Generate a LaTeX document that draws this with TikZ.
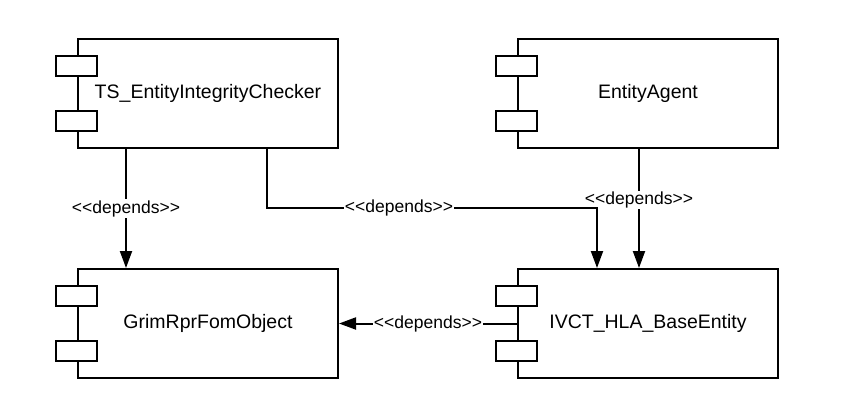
\documentclass[tikz,border=0pt]{standalone}
\usepackage{fontspec}
\setmainfont{Liberation Sans}
\usepackage{tikz}
\usetikzlibrary{arrows.meta,positioning,calc}
\newcommand{\dependstxt}{<\kern0pt<depends>\kern0pt>}

\begin{document}
\begin{tikzpicture}[x=1pt,y=-1pt,
    compbox/.style={draw,line width=2pt,minimum width=260pt,minimum height=109pt,
      font=\fontsize{19.5}{23}\selectfont},
    comptab/.style={draw,fill=white,line width=2pt},
    dep/.style={-{Triangle[length=17pt,width=12pt]},line width=2pt},
    deplab/.style={fill=white,inner sep=1pt,font=\fontsize{17.5}{20}\selectfont}]
        \useasboundingbox (0,0) rectangle (841,418);
        % Componentes
        \node[compbox] (checker) at (208,93.5) {TS\_EntityIntegrityChecker};
        \node[compbox] (agent)   at (648,93.5) {EntityAgent};
        \node[compbox] (grim)    at (208,323.5) {GrimRprFomObject};
        \node[compbox] (base)    at (648,323.5) {IVCT\_HLA\_BaseEntity};
        % Abas dos componentes
        \foreach \n in {checker,agent,grim,base}{
          \draw[comptab] ($(\n.north west)+(-21,18)$) rectangle ($(\n.north west)+(20,38)$);
          \draw[comptab] ($(\n.north west)+(-21,73)$) rectangle ($(\n.north west)+(20,93)$);
        }

        % Dependencias
        \draw[dep] ([xshift=49pt]checker.south west) -- ([xshift=49pt]grim.north west)
          node[midway,deplab]{\dependstxt};
        \draw[dep] ([xshift=122pt]agent.south west) -- ([xshift=122pt]base.north west)
          node[pos=0.43,deplab]{\dependstxt};
        \draw[dep] ([xshift=190pt]checker.south west)
          |- ([xshift=80pt,yshift=60pt]base.north west)
          node[pos=0.70,deplab]{\dependstxt}
          -- ([xshift=80pt]base.north west);
        \draw[dep] (base.west) -- (grim.east)
          node[midway,deplab]{\dependstxt};
\end{tikzpicture}
\end{document}
